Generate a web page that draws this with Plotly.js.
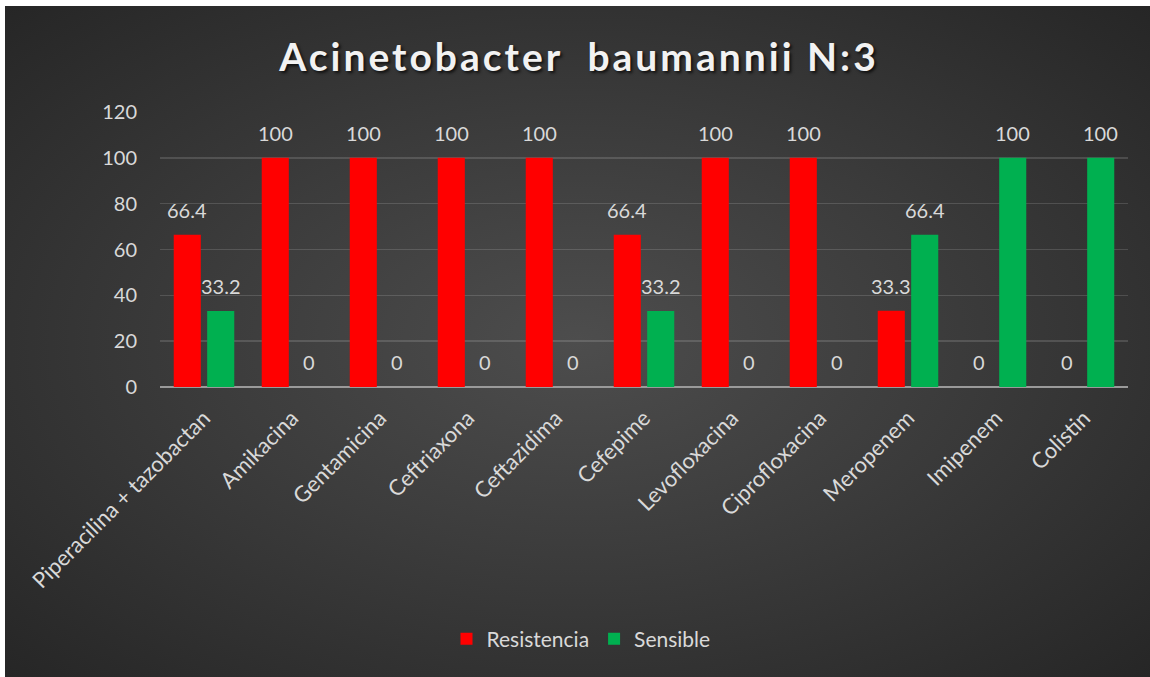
<!DOCTYPE html>
<html>
<head>
<meta charset="utf-8">
<script src="https://cdn.plot.ly/plotly-3.0.1.min.js"></script>
<style>
  html, body { margin: 0; padding: 0; background: #ffffff; }
  #wrap { position: relative; width: 1150px; height: 677px; background: #ffffff; overflow: hidden; }
  #chart {
    position: absolute; left: 5px; top: 6px; width: 1145px; height: 671px;
    background: radial-gradient(ellipse at 50% 50%, #4d4d4d 0%, #3c3c3c 45%, #262626 100%);
  }
  #chart .gtitle { letter-spacing: 3px; }
</style>
</head>
<body>
<div id="wrap"><div id="chart"></div></div>
<script>
const categories = ["Piperacilina + tazobactan", "Amikacina", "Gentamicina", "Ceftriaxona", "Ceftazidima", "Cefepime", "Levofloxacina", "Ciprofloxacina", "Meropenem", "Imipenem", "Colistin"];
const resistencia = [66.4, 100, 100, 100, 100, 66.4, 100, 100, 33.3, 0, 0];
const sensible = [33.2, 0, 0, 0, 0, 33.2, 0, 0, 66.4, 100, 100];
const yTicks = [0, 20, 40, 60, 80, 100, 120];

const FONT = "Lato, 'Noto Sans', sans-serif";
const labelFont = { family: FONT, size: 20, color: "#d9d9d9" };

const BARGAP = 0.24;
const slot = (1 - BARGAP) / 2;

const traces = [
  { type: "bar", name: "Resistencia", x: categories, y: resistencia, marker: { color: "#ff0000" }, hoverinfo: "x+y" },
  { type: "bar", name: "Sensible", x: categories, y: sensible, marker: { color: "#00b050" }, hoverinfo: "x+y" }
];

// value labels, placed through the axes at each bar's position
const annotations = [];
[resistencia, sensible].forEach((vals, s) => {
  const off = (s === 0 ? -1 : 1) * slot / 2;
  vals.forEach((v, i) => {
    annotations.push({
      x: i + off, y: v, xref: "x", yref: "y", text: String(v),
      showarrow: false, yanchor: "bottom", xanchor: "center", yshift: 11,
      font: labelFont
    });
  });
});

const layout = {
  width: 1145, height: 671,
  paper_bgcolor: "rgba(0,0,0,0)", plot_bgcolor: "rgba(0,0,0,0)",
  margin: { l: 155, r: 22, t: 106, b: 290 },
  barmode: "group", bargap: BARGAP, bargroupgap: 0.19,
  title: {
    text: "<b>Acinetobacter  baumannii N:3</b>",
    font: { family: FONT, size: 39, color: "#f2f2f2", shadow: "2px 2px 3px rgba(0,0,0,0.7)" },
    x: 574 / 1145, xanchor: "center", xref: "container",
    y: 1 - 51 / 671, yanchor: "middle", yref: "container"
  },
  xaxis: {
    type: "category", tickangle: -45,
    tickfont: { family: FONT, size: 22, color: "#d9d9d9" },
    showgrid: false, showline: false, zeroline: false, ticks: "", ticklabelstandoff: 13
  },
  yaxis: {
    range: [0, 120], tickvals: yTicks, ticktext: yTicks.map(String),
    tickfont: { family: FONT, size: 20, color: "#d9d9d9" },
    gridcolor: "rgba(255,255,255,0.14)", gridwidth: 1.5,
    zeroline: true, zerolinecolor: "#9a9a9a", zerolinewidth: 2.5,
    showline: false, ticks: "", ticklabelstandoff: 22
  },
  annotations: annotations,
  showlegend: true,
  legend: {
    orientation: "h", xref: "container", x: 576 / 1145, xanchor: "center",
    yref: "container", y: 1 - 633 / 671, yanchor: "middle",
    font: { family: FONT, size: 21, color: "#d9d9d9" },
    bgcolor: "rgba(0,0,0,0)", traceorder: "normal"
  }
};

Plotly.newPlot("chart", traces, layout, { displayModeBar: false, staticPlot: true });
</script>
</body>
</html>
